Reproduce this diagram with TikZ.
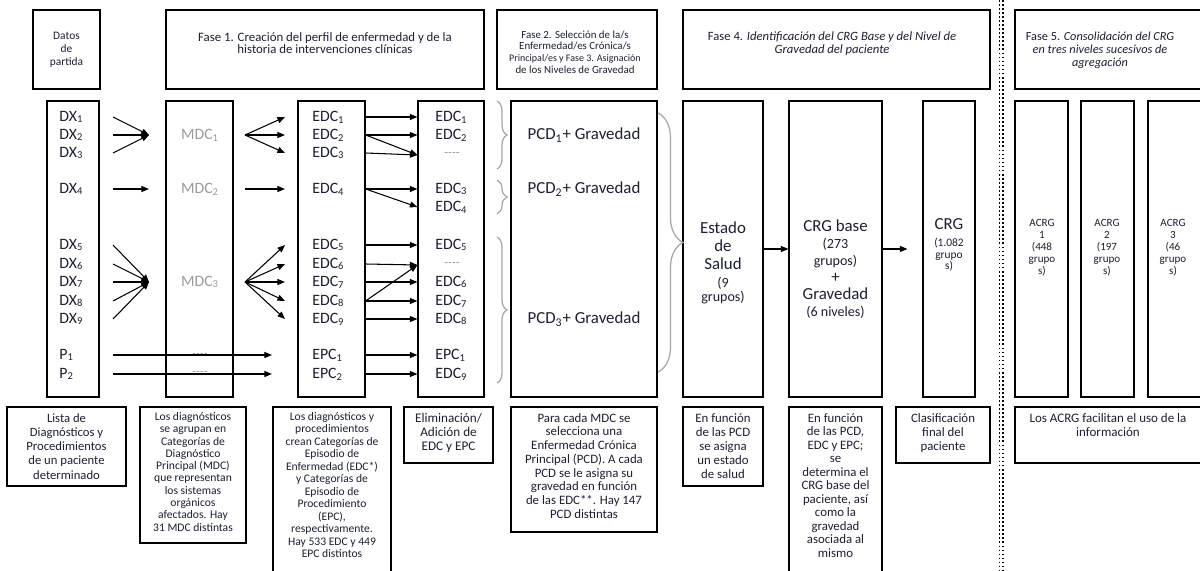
\documentclass[tikz,border=0pt]{standalone}
\usepackage{fontspec}
\setmainfont{Carlito}
\usetikzlibrary{arrows.meta,decorations.pathreplacing,fit}

\definecolor{ink}{HTML}{1B2033}
\definecolor{soft}{HTML}{9B9B9B}
\newcommand\fs[2]{\fontsize{#1}{#2}\selectfont}
\newcommand\sub[1]{\textsubscript{#1}}
\newcommand\gap{-{}-{}-{}-}

\tikzset{
  box/.style={draw=black, line width=0.65pt, inner sep=0pt},
  lbl/.style={text=ink, font=\fs{9}{10}, inner sep=0pt},
  greylbl/.style={lbl, text=soft},
  head/.style={text=ink, align=center, inner sep=0pt},
  note/.style={head, anchor=north},
  arr/.style={line width=0.6pt, -{Triangle[length=4.3pt,width=3.4pt]}},
  brc/.style={decorate, decoration={brace, amplitude=#1}, draw=gray!70, line width=0.7pt},
  dots/.style={line width=1pt, dash pattern=on 1pt off 1.3pt},
}

\begin{document}
\begin{tikzpicture}[x=0.02cm, y=-0.02cm]
\useasboundingbox (0,0) rectangle (1200,571);
\clip (0,0) rectangle (1200,571);
\fill[white] (0,0) rectangle (1200,571);

% header row
\node[box, fit={(33,10) (100,89)}] (hDatos) {};
\node[box, fit={(166,10) (484,89)}] (hF1) {};
\node[box, fit={(497,10) (657,89)}] (hF2) {};
\node[box, fit={(683,10) (990,89)}] (hF4) {};
\node[box, fit={(1015,10) (1210,89)}] (hF5) {};
\node[head, font=\fs{6.5}{7.4}] (tDatos) at (66.5,50) {Datos\\de\\partida};
\node[head, font=\fs{7.3}{6.6}] (tF1) at (325,43) {Fase 1. Creación del perfil de enfermedad y de la\\historia de intervenciones clínicas};
\node[head, font=\fs{6.2}{6.6}] (tF2) at (575,52) {Fase 2. Selección de la/s\\Enfermedad/es Crónica/s\\{\fs{5.7}{6.6}Principal/es y Fase 3. Asignación}\\de los Niveles de Gravedad};
\node[head, font=\fs{7.2}{7.4}] (tF4) at (832,44) {Fase 4. \textit{Identificación del CRG Base y del Nivel de}\\\textit{Gravedad del paciente}};
\node[head, font=\fs{7}{7.4}] (tF5) at (1100,50) {Fase 5. \textit{Consolidación del CRG}\\\textit{en tres niveles sucesivos de}\\\textit{agregación}};

% column boxes
\node[box, fit={(47,101) (99,397)}] (cDX) {};
\node[box, fit={(166,101) (233,397)}] (cMDC) {};
\node[box, fit={(298,101) (365,397)}] (cEDC) {};
\node[box, fit={(418,101) (484,397)}] (cSel) {};
\node[box, fit={(511,101) (657,397)}] (cPCD) {};
\node[box, fit={(683,101) (763,397)}] (cEst) {};
\node[box, fit={(789,101) (882,397)}] (cBase) {};
\node[box, fit={(923,101) (975,397)}] (cCRG) {};
\node[box, fit={(1015,101) (1068,397)}] (cA1) {};
\node[box, line width=1pt, fit={(1081,101) (1134,397)}] (cA2) {};
\node[box, fit={(1148,101) (1210,397)}] (cA3) {};

% helper x positions
\coordinate (sA) at (113,0);
\coordinate (sB) at (149,0);
\coordinate (fA) at (245,0);
\coordinate (fB) at (285,0);
\coordinate (pE) at (272,0);

% diagnoses and procedures
\foreach \i/\y in {1/117,2/135,3/153,4/189,5/245,6/264,7/282,8/301,9/319}
  \node[lbl, anchor=west] (dx\i) at (59,\y) {DX\sub{\i}};
\node[lbl, anchor=west] (p1) at (59,355) {P\sub{1}};
\node[lbl, anchor=west] (p2) at (59,374) {P\sub{2}};

% MDC column
\node[greylbl] (mdc1) at (200,135) {MDC\sub{1}};
\node[greylbl] (mdc2) at (200,189) {MDC\sub{2}};
\node[greylbl] (mdc3) at (200,282) {MDC\sub{3}};
\node[greylbl, font=\fs{7}{8}] (md1) at (200,356) {\gap};
\node[greylbl, font=\fs{7}{8}] (md2) at (200,374) {\gap};

% EDC / EPC column
\foreach \i/\y in {1/117,2/135,3/153,4/189,5/245,6/264,7/282,8/301,9/319}
  \node[lbl, anchor=west] (edc\i) at (312,\y) {EDC\sub{\i}};
\node[lbl, anchor=west] (epc1) at (312,355) {EPC\sub{1}};
\node[lbl, anchor=west] (epc2) at (312,374) {EPC\sub{2}};

% EDC / EPC after elimination
\node[lbl, anchor=west] (sel1) at (435,117) {EDC\sub{1}};
\node[lbl, anchor=west] (sel2) at (435,135) {EDC\sub{2}};
\node[greylbl, font=\fs{7}{8}] (selD1) at (452,155) {\gap};
\node[lbl, anchor=west] (sel3) at (435,189) {EDC\sub{3}};
\node[lbl, anchor=west] (sel4) at (435,207) {EDC\sub{4}};
\node[lbl, anchor=west] (sel5) at (435,245) {EDC\sub{5}};
\node[greylbl, font=\fs{7}{8}] (selD2) at (452,265) {\gap};
\node[lbl, anchor=west] (sel6) at (435,282) {EDC\sub{6}};
\node[lbl, anchor=west] (sel7) at (435,301) {EDC\sub{7}};
\node[lbl, anchor=west] (sel8) at (435,319) {EDC\sub{8}};
\node[lbl, anchor=west] (selP) at (435,355) {EPC\sub{1}};
\node[lbl, anchor=west] (sel9) at (435,374) {EDC\sub{9}};

% PCD column
\node[lbl, font=\fs{9.6}{11}] (pcd1) at (584,135) {PCD\sub{1}+ Gravedad};
\node[lbl, font=\fs{9.6}{11}] (pcd2) at (584,189) {PCD\sub{2}+ Gravedad};
\node[lbl, font=\fs{9.6}{11}] (pcd3) at (584,319) {PCD\sub{3}+ Gravedad};

% right columns
\node[head, font=\fs{9.6}{10.2}] (tEst) at (723,263) {Estado\\de\\Salud\\{\fs{8}{8}(9}\\[-2pt]{\fs{8}{8}grupos)}};
\node[head, font=\fs{9.6}{9.6}] (tBase) at (835.5,269) {CRG base\\{\fs{8}{8}(273}\\{\fs{8}{8}grupos)}\\+\\Gravedad\\{\fs{8}{8}(6 niveles)}};
\node[head, font=\fs{6.5}{6.5}] (tCRG) at (949,245) {{\fs{9.6}{9.6}CRG}\\[3pt](1.082\\grupo\\s)};
\foreach \k/\x/\n in {1/1042/448,2/1107/197,3/1173/46}
  \node[head, font=\fs{6.3}{6.8}] (tA\k) at (\x,248) {ACRG\\\k\\(\n\\grupo\\s)};

% arrows: diagnoses to MDC
\foreach \i in {1,2,3}
  \draw[arr] (dx\i -| sA) -- (mdc1 -| sB);
\draw[arr] (dx4 -| sA) -- (mdc2 -| sB);
\foreach \i in {5,6,7,8,9}
  \draw[arr] (dx\i -| sA) -- (mdc3 -| sB);

% arrows: MDC to EDC
\foreach \i in {1,2,3}
  \draw[arr] (mdc1 -| fA) -- (edc\i -| fB);
\draw[arr] (mdc2 -| fA) -- (edc4 -| fB);
\foreach \i in {5,6,7,8,9}
  \draw[arr] (mdc3 -| fA) -- (edc\i -| fB);
\draw[arr] (p1 -| sA) -- (p1 -| pE);
\draw[arr] (p2 -| sA) -- (p2 -| pE);

% arrows: EDC to selection
\foreach \a/\b in {edc1/sel1,edc2/sel2,edc2/selD1,edc3/selD1,edc4/sel3,edc4/sel4,
                   edc5/sel5,edc6/selD2,edc7/sel6,edc8/selD2,edc8/sel7,edc9/sel8,
                   epc1/selP,epc2/sel9}
  \draw[arr] (\a -| cEDC.east) -- (\b -| cSel.west);

% braces
\draw[brc=0.2cm] (497,101) -- (497,169);
\draw[brc=0.2cm] (497,180) -- (497,214);
\draw[brc=0.2cm] (497,237) -- (497,383);
\draw[brc=0.5cm] (658,113) -- (658,372);

% arrows to CRG
\draw[arr] (cEst) -- (cBase);
\draw[arr, shorten >=0.3cm] (cBase) -- (cCRG);

% divider
\draw[dots] (999.5,0) -- (999.5,571);
\draw[dots] (1003,0) -- (1003,571);

% bottom notes
\node[box, fit={(7,407) (126,486)}] (bLista) {};
\node[box, fit={(140,407) (246,543)}] (bMDC) {};
\node[box, fit={(273,407) (391,600)}] (bEDC) {};
\node[box, fit={(404,407) (493,463)}] (bElim) {};
\node[box, fit={(511,407) (657,532)}] (bPCD) {};
\node[box, fit={(683,407) (763,486)}] (bEst) {};
\node[box, fit={(789,407) (882,600)}] (bBase) {};
\node[box, fit={(896,407) (990,463)}] (bCRG) {};
\node[box, fit={(1015,407) (1210,463)}] (bACRG) {};

\node[note, font=\fs{7.2}{8.1}] (nLista) at (66.5,413) {Lista de\\Diagnósticos y\\Procedimientos\\de un paciente\\determinado};
\node[note, font=\fs{6.6}{7}] (nMDC) at (193,412) {Los diagnósticos\\se agrupan en\\Categorías de\\Diagnóstico\\Principal (MDC)\\que representan\\los sistemas\\orgánicos\\afectados. Hay\\31 MDC distintas};
\node[note, font=\fs{6.6}{7.1}] (nEDC) at (332,412) {Los diagnósticos y\\procedimientos\\crean Categorías de\\Episodio de\\Enfermedad (EDC*)\\y Categorías de\\Episodio de\\Procedimiento\\(EPC),\\respectivamente.\\Hay 533 EDC y 449\\EPC distintos};
\node[note, font=\fs{7.5}{8}] (nElim) at (448.5,413) {Eliminación/\\Adición de\\EDC y EPC};
\node[note, font=\fs{7.3}{7.8}] (nPCD) at (584,413) {Para cada MDC se\\selecciona una\\Enfermedad Crónica\\Principal (PCD). A cada\\PCD se le asigna su\\gravedad en función\\de las EDC**. Hay 147\\PCD distintas};
\node[note, font=\fs{7.3}{8}] (nEst) at (723,413) {En función\\de las PCD\\se asigna\\un estado\\de salud};
\node[note, font=\fs{7.3}{7.7}] (nBase) at (835.5,413) {En función\\de las PCD,\\EDC y EPC;\\se\\determina el\\CRG base del\\paciente, así\\como la\\gravedad\\asociada al\\mismo};
\node[note, font=\fs{7.3}{8}] (nCRG) at (943,413) {Clasificación\\final del\\paciente};
\node[note, font=\fs{7.4}{8}] (nACRG) at (1108,413) {Los ACRG facilitan el uso de la\\información};
\end{tikzpicture}
\end{document}
